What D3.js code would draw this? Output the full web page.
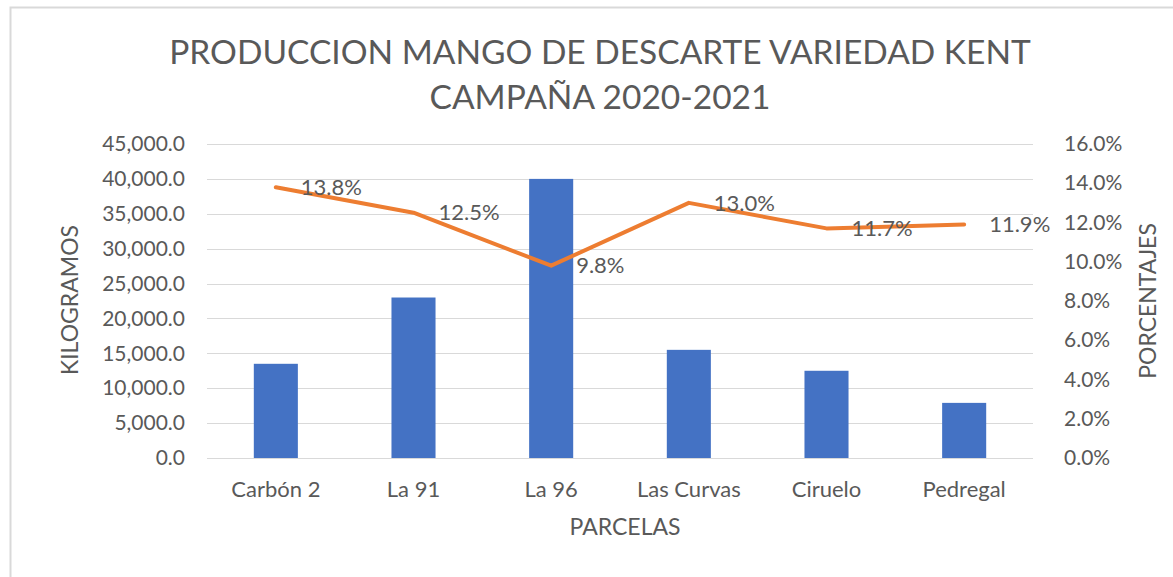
<!DOCTYPE html>
<html>
<head>
<meta charset="utf-8">
<script src="https://cdn.jsdelivr.net/npm/d3@7"></script>
<style>
  body { margin: 0; background: #fff; }
  svg text { font-family: Lato, "Open Sans", sans-serif; fill: #595959; }
</style>
</head>
<body>
<svg id="chart" width="1173" height="577"></svg>
<script>
// ----------------------------
// Data
// ----------------------------
const parcelas = ["Carbón 2", "La 91", "La 96", "Las Curvas", "Ciruelo", "Pedregal"];
const kilogramos = [13500, 23000, 40000, 15500, 12500, 7900];
const porcentajes = [0.138, 0.125, 0.098, 0.130, 0.117, 0.119];
const kgTicks = [0, 5000, 10000, 15000, 20000, 25000, 30000, 35000, 40000, 45000];
const pctTicks = [0, 0.02, 0.04, 0.06, 0.08, 0.10, 0.12, 0.14, 0.16];
const titleLines = ["PRODUCCION MANGO DE DESCARTE VARIEDAD KENT", "CAMPAÑA 2020-2021"];

// ----------------------------
// Plotting
// ----------------------------
const svg = d3.select("#chart");

// chart frame
svg.append("rect")
    .attr("x", 10.5).attr("y", 7.5)
    .attr("width", 1300).attr("height", 700)
    .attr("fill", "#fff")
    .attr("stroke", "#d9d9d9")
    .attr("stroke-width", 2);

const plotL = 207, plotR = 1033, plotT = 144, plotB = 458;

const x = d3.scaleBand().domain(parcelas).range([plotL, plotR]).paddingInner(0.68).paddingOuter(0.34);
const yKg = d3.scaleLinear().domain([0, 45000]).range([plotB, plotT]);
const yPct = d3.scaleLinear().domain([0, 0.16]).range([plotB, plotT]);

// gridlines
svg.append("g")
  .selectAll("line")
  .data(kgTicks)
  .join("line")
    .attr("x1", plotL).attr("x2", plotR)
    .attr("y1", d => Math.round(yKg(d)) + 0.5)
    .attr("y2", d => Math.round(yKg(d)) + 0.5)
    .attr("stroke", "#d9d9d9")
    .attr("stroke-width", 1);

function styleAxis(ax, size) {
  ax.select(".domain").remove();
  ax.selectAll("text").attr("font-size", size).attr("fill", "#595959")
    .style("font-family", "Lato, sans-serif");
}

// left axis
const fmtKg = d3.format(",.1f");
const axL = svg.append("g")
    .attr("transform", `translate(${plotL},0)`)
    .call(d3.axisLeft(yKg).tickValues(kgTicks).tickFormat(fmtKg).tickSize(0).tickPadding(22));
styleAxis(axL, 21);

// right axis
const fmtPct = d3.format(".1%");
const axR = svg.append("g")
    .attr("transform", `translate(${plotR},0)`)
    .call(d3.axisRight(yPct).tickValues(pctTicks).tickFormat(fmtPct).tickSize(0).tickPadding(31));
styleAxis(axR, 21);

// bottom labels
const axB = svg.append("g")
    .attr("transform", `translate(0,${plotB})`)
    .call(d3.axisBottom(x).tickSize(0).tickPadding(23));
styleAxis(axB, 22);

// bars
svg.append("g")
  .selectAll("rect")
  .data(parcelas)
  .join("rect")
    .attr("x", d => x(d))
    .attr("width", x.bandwidth())
    .attr("y", (d, i) => yKg(kilogramos[i]))
    .attr("height", (d, i) => plotB - yKg(kilogramos[i]))
    .attr("fill", "#4472c4");

// line
const lineGen = d3.line()
    .x((d, i) => x(parcelas[i]) + x.bandwidth() / 2)
    .y(d => yPct(d));

svg.append("path")
    .datum(porcentajes)
    .attr("fill", "none")
    .attr("stroke", "#ed7d31")
    .attr("stroke-width", 4)
    .attr("stroke-linecap", "round")
    .attr("stroke-linejoin", "round")
    .attr("d", lineGen);

// data labels
svg.append("g")
  .selectAll("text")
  .data(porcentajes)
  .join("text")
    .attr("x", (d, i) => x(parcelas[i]) + x.bandwidth() / 2 + 25)
    .attr("y", d => yPct(d))
    .attr("dy", "0.35em")
    .attr("font-size", 22)
    .text(d => fmtPct(d));

// titles
svg.append("text")
    .attr("x", 600).attr("text-anchor", "middle")
    .attr("font-size", 33.5)
  .selectAll("tspan")
  .data(titleLines)
  .join("tspan")
    .attr("x", 600)
    .attr("y", (d, i) => 64 + i * 45)
    .text(d => d);

svg.append("text")
    .attr("transform", "translate(78,300) rotate(-90)")
    .attr("text-anchor", "middle")
    .attr("font-size", 23)
    .text("KILOGRAMOS");

svg.append("text")
    .attr("transform", "translate(1156,301) rotate(-90)")
    .attr("text-anchor", "middle")
    .attr("font-size", 23)
    .text("PORCENTAJES");

svg.append("text")
    .attr("x", 625).attr("y", 535)
    .attr("text-anchor", "middle")
    .attr("font-size", 23)
    .text("PARCELAS");
</script>
</body>
</html>
